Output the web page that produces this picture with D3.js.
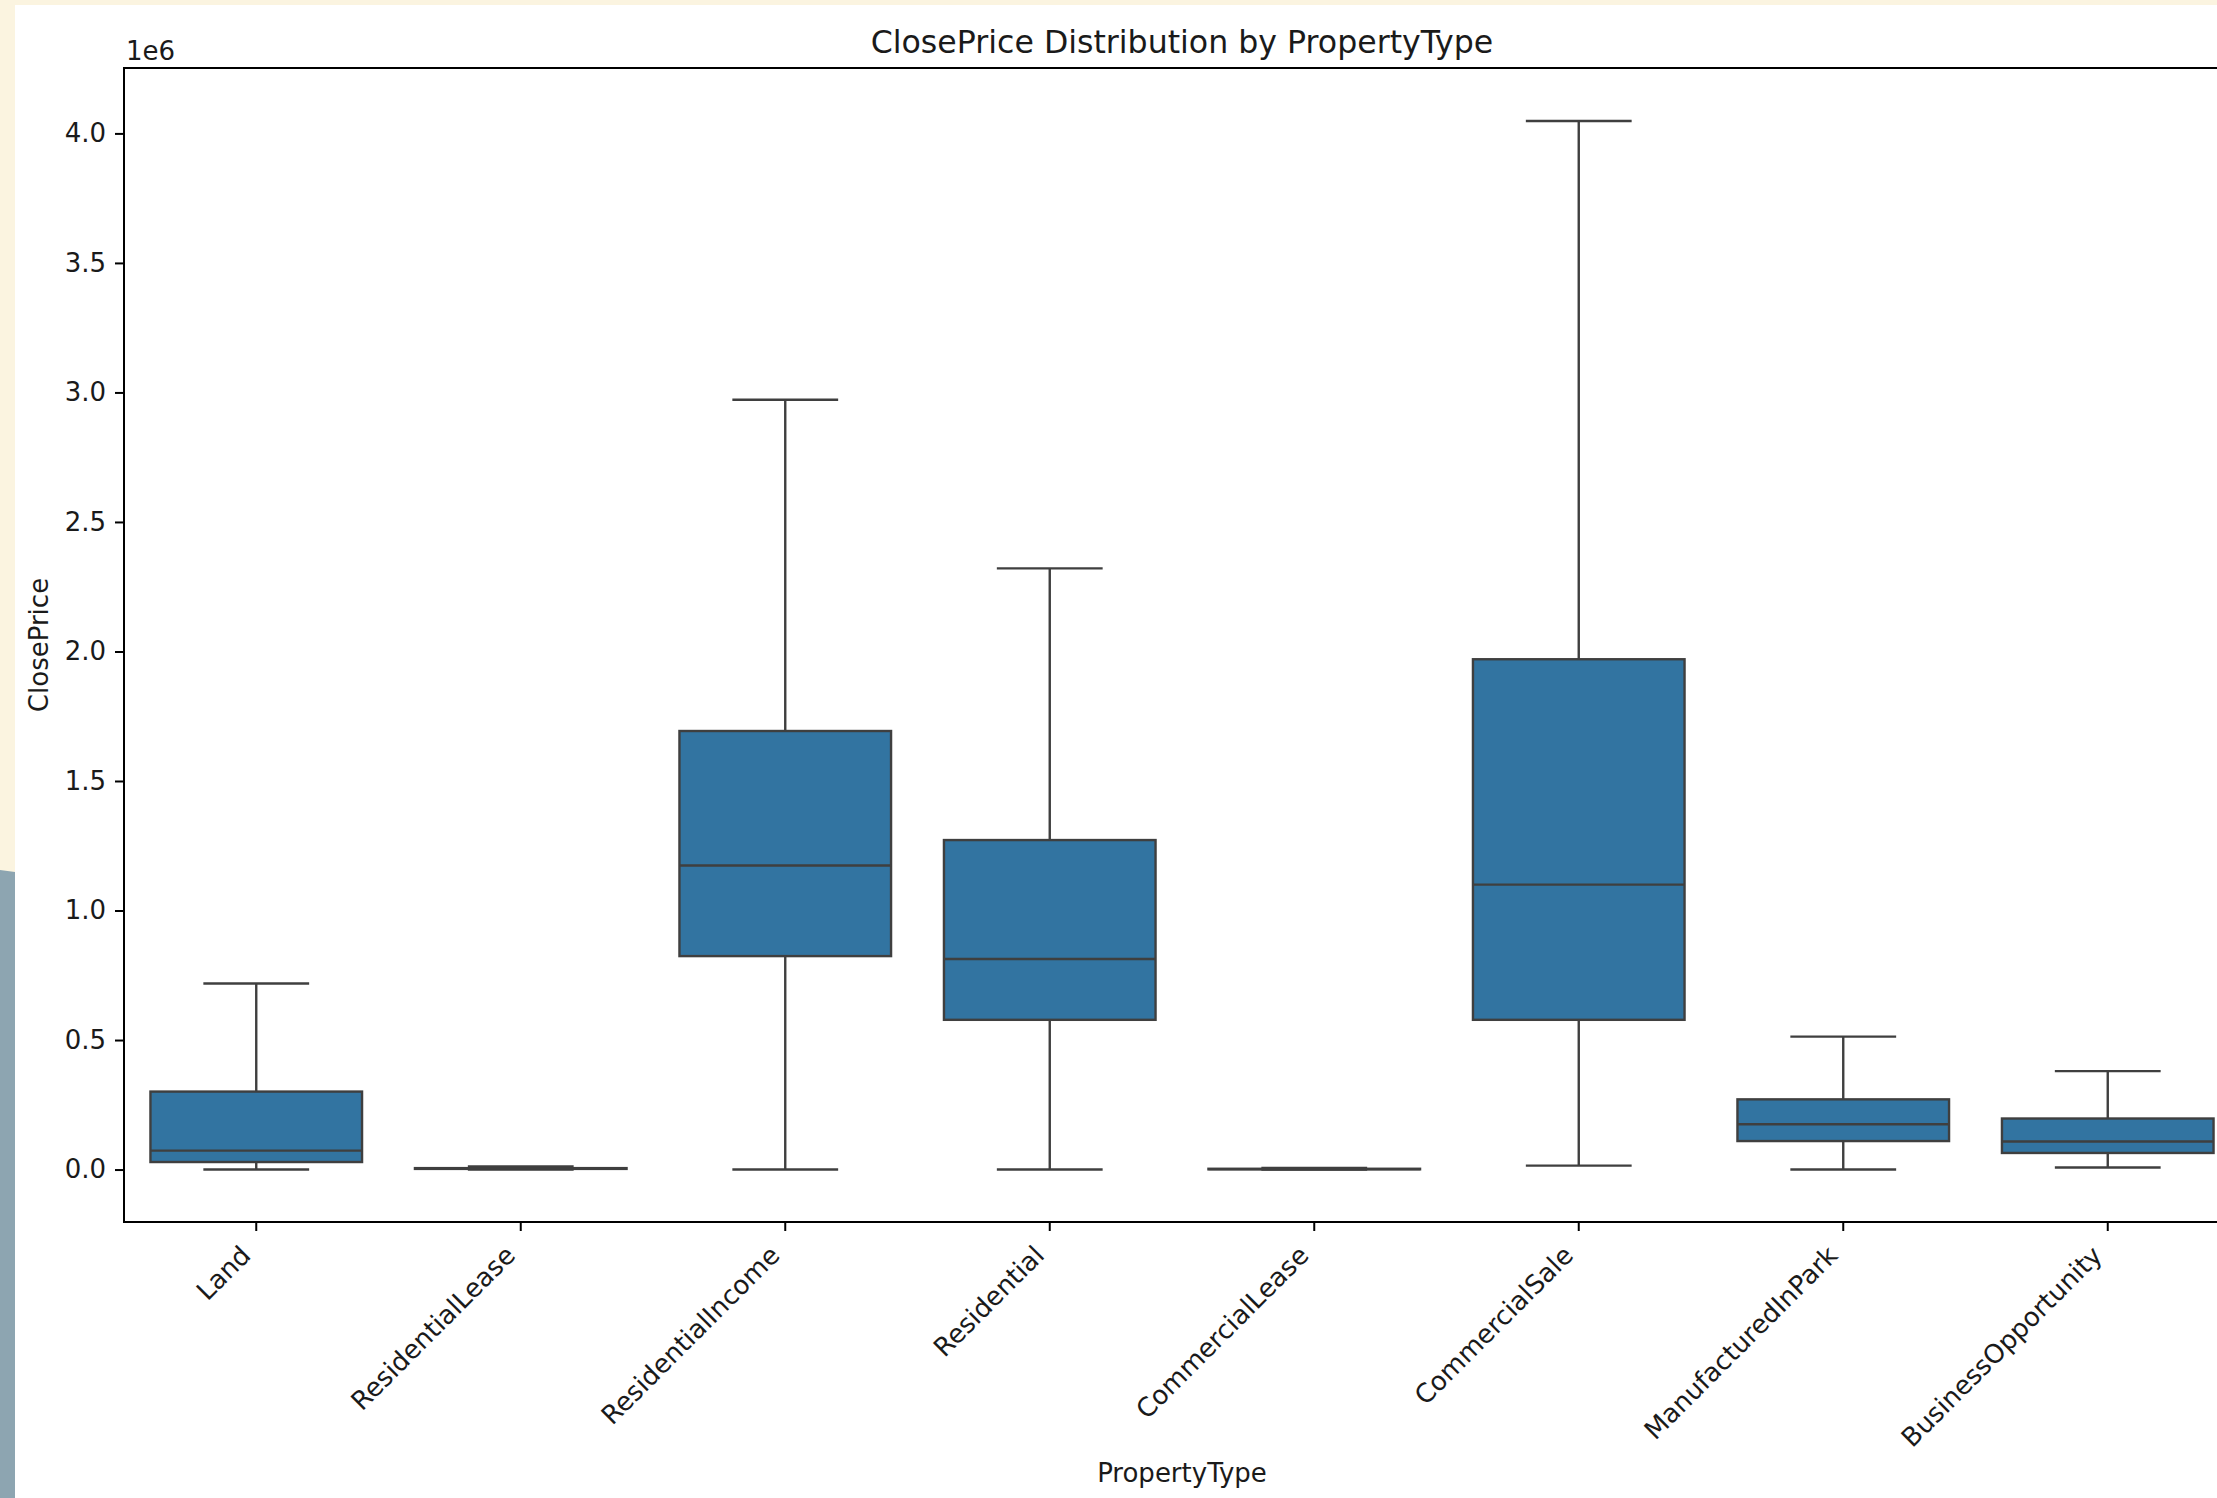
<!DOCTYPE html>
<html>
<head>
<meta charset="utf-8">
<script src="https://cdn.jsdelivr.net/npm/d3@7"></script>
<style>
  html, body { margin: 0; padding: 0; overflow: hidden; background: #fbf4e0; }
  svg { display: block; }
  text { font-family: "DejaVu Sans", sans-serif; fill: #1a1a1a; }
</style>
</head>
<body>
<script>
// ---- data (values in dollars) ----
const categories = ["Land", "ResidentialLease", "ResidentialIncome", "Residential",
                    "CommercialLease", "CommercialSale", "ManufacturedInPark", "BusinessOpportunity"];
const whiskerLow  = [0,      0,     0,       0,       0,    15000,   0,      8000];
const q1          = [29000,  2500,  824000,  578000,  800,  578000,  110000, 64000];
const median      = [73000,  3500,  1174000, 813000,  1500, 1100000, 175000, 108000];
const q3          = [301000, 5500,  1693000, 1272000, 3000, 1970000, 271000, 197000];
const whiskerHigh = [718000, 12000, 2972000, 2321000, 6000, 4048000, 513000, 380000];
const yTickValues = [0, 500000, 1000000, 1500000, 2000000, 2500000, 3000000, 3500000, 4000000];
const yTickLabels = ["0.0", "0.5", "1.0", "1.5", "2.0", "2.5", "3.0", "3.5", "4.0"];
const titleText = "ClosePrice Distribution by PropertyType";
const xLabel = "PropertyType";
const yLabel = "ClosePrice";
const offsetText = "1e6";

const W = 2217, H = 1498;
const m = { left: 124, top: 68, right: 2240, bottom: 1222 };
const tickFont = 26, titleFont = 31.6;
const boxFill = "#3274a1", lineCol = "#3f3f3f";

const svg = d3.select("body").append("svg").attr("width", W).attr("height", H);

// page backgrounds
svg.append("rect").attr("x", 0).attr("y", 0).attr("width", W).attr("height", H).attr("fill", "#fbf4e0");
svg.append("rect").attr("x", 15).attr("y", 5).attr("width", W - 15).attr("height", H - 5).attr("fill", "#ffffff");
svg.append("path").attr("d", `M0,870 L15,872 L15,${H} L0,${H} Z`).attr("fill", "#8da5b1");

const data = categories.map((c, i) => ({
  cat: c, lo: whiskerLow[i], q1: q1[i], med: median[i], q3: q3[i], hi: whiskerHigh[i]
}));

const x = d3.scaleBand().domain(categories).range([m.left, m.right]).paddingInner(0).paddingOuter(0);
const yMin = -202500, yMax = 4252500;
const y = d3.scaleLinear().domain([yMin, yMax]).range([m.bottom, m.top]);

const bw = x.bandwidth();
const boxW = bw * 0.8, capW = boxW * 0.5;
const cx = d => x(d.cat) + bw / 2;

const g = svg.append("g");
const lw = 2.4;

const boxes = g.selectAll("g.box").data(data).join("g").attr("class", "box");
// whiskers
boxes.append("line").attr("x1", cx).attr("x2", cx).attr("y1", d => y(d.q3)).attr("y2", d => y(d.hi))
  .attr("stroke", lineCol).attr("stroke-width", lw);
boxes.append("line").attr("x1", cx).attr("x2", cx).attr("y1", d => y(d.q1)).attr("y2", d => y(d.lo))
  .attr("stroke", lineCol).attr("stroke-width", lw);
// box
boxes.append("rect")
  .attr("x", d => cx(d) - boxW / 2).attr("width", boxW)
  .attr("y", d => y(d.q3)).attr("height", d => Math.max(0.01, y(d.q1) - y(d.q3)))
  .attr("fill", boxFill).attr("stroke", lineCol).attr("stroke-width", lw);
// caps
boxes.append("line").attr("x1", d => cx(d) - capW / 2).attr("x2", d => cx(d) + capW / 2)
  .attr("y1", d => y(d.hi)).attr("y2", d => y(d.hi)).attr("stroke", lineCol).attr("stroke-width", lw);
boxes.append("line").attr("x1", d => cx(d) - capW / 2).attr("x2", d => cx(d) + capW / 2)
  .attr("y1", d => y(d.lo)).attr("y2", d => y(d.lo)).attr("stroke", lineCol).attr("stroke-width", lw);
// median
boxes.append("line").attr("x1", d => cx(d) - boxW / 2).attr("x2", d => cx(d) + boxW / 2)
  .attr("y1", d => y(d.med)).attr("y2", d => y(d.med)).attr("stroke", lineCol).attr("stroke-width", lw);

// axes
const yAxis = d3.axisLeft(y).tickValues(yTickValues).tickFormat((d, i) => yTickLabels[i])
  .tickSize(9).tickPadding(9);
const ya = svg.append("g").attr("transform", `translate(${m.left},0)`).call(yAxis);
ya.select(".domain").remove();
ya.selectAll(".tick line").attr("stroke", "#000").attr("stroke-width", 2);
ya.selectAll(".tick text").attr("font-size", tickFont).attr("fill", "#1a1a1a")
  .style("font-family", "DejaVu Sans");

const xAxis = d3.axisBottom(x).tickSize(9).tickPadding(0);
const xa = svg.append("g").attr("transform", `translate(0,${m.bottom})`).call(xAxis);
xa.select(".domain").remove();
xa.selectAll(".tick line").attr("stroke", "#000").attr("stroke-width", 2);
xa.selectAll(".tick text")
  .attr("font-size", tickFont).attr("fill", "#1a1a1a").style("font-family", "DejaVu Sans")
  .attr("text-anchor", "end").attr("dy", null).attr("y", null)
  .attr("transform", `translate(-4,${9 + 9 + 17}) rotate(-45)`);

// spines
svg.append("rect").attr("x", m.left).attr("y", m.top)
  .attr("width", m.right - m.left).attr("height", m.bottom - m.top)
  .attr("fill", "none").attr("stroke", "#000").attr("stroke-width", 2);

// texts
svg.append("text").attr("x", (m.left + m.right) / 2).attr("y", 53)
  .attr("text-anchor", "middle").attr("font-size", titleFont).text(titleText);
svg.append("text").attr("x", m.left + 2).attr("y", 60).attr("font-size", tickFont).text(offsetText);
svg.append("text").attr("x", (m.left + m.right) / 2).attr("y", 1482)
  .attr("text-anchor", "middle").attr("font-size", tickFont).text(xLabel);
svg.append("text").attr("transform", `translate(48,${(m.top + m.bottom) / 2}) rotate(-90)`)
  .attr("text-anchor", "middle").attr("font-size", tickFont).text(yLabel);
</script>
</body>
</html>
